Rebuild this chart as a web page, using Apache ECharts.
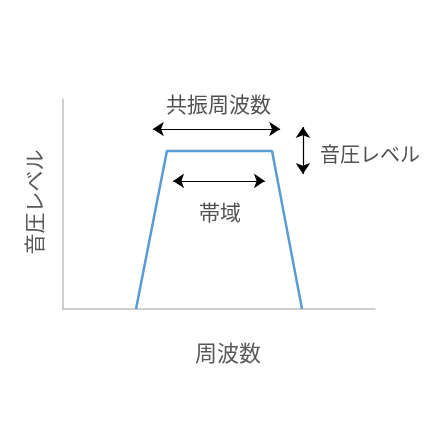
<!DOCTYPE html>
<html><head><meta charset="utf-8">
<script src="https://cdn.jsdelivr.net/npm/echarts@6/dist/echarts.min.js"></script>
<style>html,body{margin:0;padding:0;background:#fff}#c{width:448px;height:448px}</style>
</head><body><div id="c"></div>
<script>
// Trapezoid response curve (frequency, level)
const curveX = [23.4, 33.3, 67.0, 76.6];
const curveY = [0, 75.2, 75.2, 0];
// Double-headed arrows: [x1, y1, x2, y2]
const arrowResonance = [28.8, 85.7, 69.6, 85.7];
const arrowBand = [35.3, 61.0, 64.7, 61.0];
const arrowLevel = [76.9, 86.7, 76.9, 64.3];
// Annotation texts and anchor points
const noteTexts = ['共振周波数', '帯域', '音圧レベル'];
const noteX = [49.8, 50.3, 82.4];
const noteY = [97.6, 46.2, 73.8];
const xAxisName = '周波数';
const yAxisName = '音圧レベル';

const font = "'Noto Sans CJK JP', sans-serif";
const chart = echarts.init(document.getElementById('c'));
const arrows = [arrowResonance, arrowBand, arrowLevel].map(a => ({coords: [[a[0], a[1]], [a[2], a[3]]]}));
chart.setOption({
  animation: false,
  grid: {left: 63, top: 99, right: 73, bottom: 139},
  xAxis: {
    type: 'value', min: 0, max: 100,
    name: xAxisName, nameLocation: 'middle', nameGap: 33,
    nameTextStyle: {color: '#595959', fontSize: 22, fontFamily: font, padding: [0, 0, 0, 18]},
    axisLine: {show: true, lineStyle: {color: '#BFBFBF', width: 1.5}},
    axisTick: {show: false}, axisLabel: {show: false}, splitLine: {show: false}
  },
  yAxis: {
    type: 'value', min: 0, max: 100,
    name: yAxisName, nameLocation: 'middle', nameGap: 18, nameRotate: 90,
    nameTextStyle: {color: '#595959', fontSize: 21, fontFamily: font, padding: [0, 0, 0, 4]},
    axisLine: {show: true, lineStyle: {color: '#BFBFBF', width: 1.5}},
    axisTick: {show: false}, axisLabel: {show: false}, splitLine: {show: false}
  },
  series: [
    {
      type: 'line', data: curveX.map((x, i) => [x, curveY[i]]),
      symbol: 'none', lineStyle: {color: '#5B9BD5', width: 2.5}
    },
    {
      type: 'lines', coordinateSystem: 'cartesian2d',
      symbol: ['arrow', 'arrow'], symbolSize: 11,
      lineStyle: {color: '#000', width: 1.2, opacity: 1},
      data: arrows
    },
    {
      type: 'scatter', symbolSize: 0,
      data: noteTexts.map((t, i) => ({
        value: [noteX[i], noteY[i]], name: t,
        label: i === 2 ? {position: 'right', distance: 0, fontSize: 20} : {position: 'inside'}
      })),
      label: {
        show: true, formatter: p => p.name, color: '#262626', fontSize: 21, fontFamily: font
      }
    }
  ]
});
</script></body></html>
